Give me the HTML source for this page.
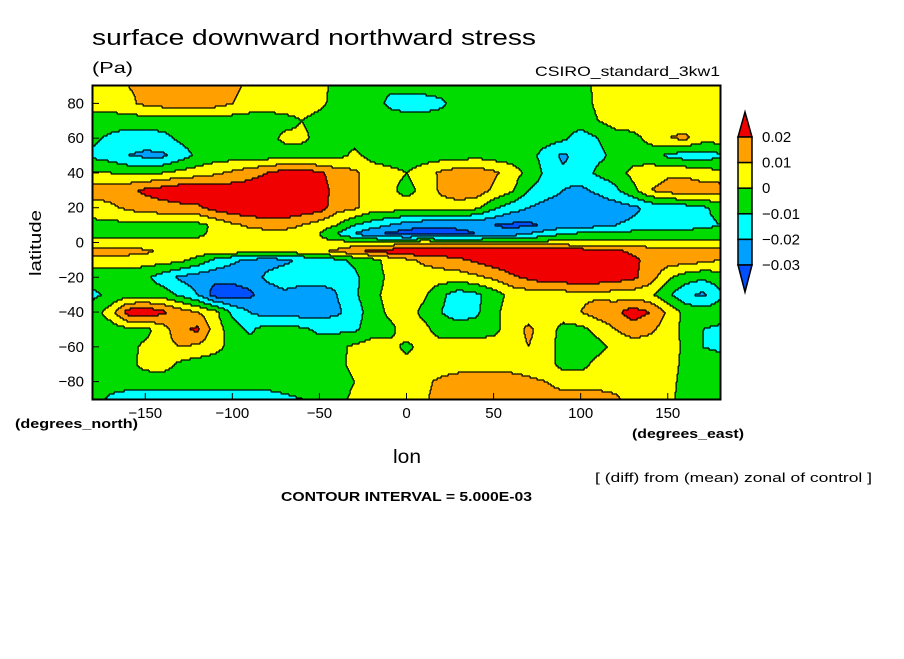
<!DOCTYPE html>
<html><head><meta charset="utf-8">
<style>
body{margin:0;background:#fff;width:904px;height:654px;overflow:hidden;font-family:"Liberation Sans",sans-serif;}
svg text{font-family:"Liberation Sans",sans-serif;}
</style></head>
<body>
<svg id="chart" width="904" height="654" viewBox="0 0 904 654" xmlns="http://www.w3.org/2000/svg">
<rect width="904" height="654" fill="#fff"/>
<text x="92" y="45" font-size="22" textLength="444" lengthAdjust="spacingAndGlyphs" fill="#000">surface downward northward stress</text>
<text x="92" y="73" font-size="16" textLength="41" lengthAdjust="spacingAndGlyphs" fill="#000">(Pa)</text>
<text x="535" y="76" font-size="14" textLength="185" lengthAdjust="spacingAndGlyphs" fill="#000">CSIRO_standard_3kw1</text>
<g id="fill"></g>
<g id="lines"></g>
<rect x="92.5" y="85.5" width="628" height="314" fill="none" stroke="#000" stroke-width="2"/>
<g id="axes"></g>
<text transform="translate(41,243) rotate(-90)" font-size="17" text-anchor="middle" textLength="66" lengthAdjust="spacingAndGlyphs" fill="#000">latitude</text>
<text x="15" y="428" font-size="13" font-weight="bold" textLength="123" lengthAdjust="spacingAndGlyphs" fill="#000">(degrees_north)</text>
<text x="632" y="438" font-size="13" font-weight="bold" textLength="112" lengthAdjust="spacingAndGlyphs" fill="#000">(degrees_east)</text>
<text x="393" y="463" font-size="19" textLength="28" lengthAdjust="spacingAndGlyphs" fill="#000">lon</text>
<text x="595" y="482" font-size="13" textLength="277" lengthAdjust="spacingAndGlyphs" fill="#000">[ (diff) from (mean) zonal of control ]</text>
<text x="281" y="501" font-size="13" font-weight="bold" textLength="251" lengthAdjust="spacingAndGlyphs" fill="#000">CONTOUR INTERVAL = 5.000E-03</text>
<g id="cbar"></g>
</svg>
<script>
// data (units of 1e-3 Pa)
const lons = [];
for (let l = -180; l <= 180; l += 10) lons.push(l);
const lats = [90,80,70,60,50,40,30,20,10,5,0,-5,-10,-20,-30,-40,-50,-60,-70,-80,-90];
const row90 = [5,5,10,12,15,15,15,15,12,8,5,5,5,3,-3,-5,-5,-8,-5,-5,-5,-5,-5,-5,-5,-5,-5,-5,-3,2,5,5,5,5,5,5,5];
const row80 = [5,5,8,12,14,15,15,14,10,6,5,5,4,2,-3,-5,-5,-12,-15,-15,-12,-5,-5,-5,-5,-5,-5,-5,-4,2,5,5,5,5,5,2,0];
const row70 = [-5,-5,-5,-5,-5,-5,-5,-5,-5,-5,-5,-3,0,-3,-5,-3,0,-5,-5,-5,-5,-5,-5,-5,-5,-5,-5,-5,-5,0,5,5,5,5,5,5,5];
const row60 = [-8,-12,-15,-15,-13,-8,-5,-5,-5,-5,-3,2,2,-3,-5,-3,-5,-5,-5,-5,-8,-5,-5,-5,-5,-5,-5,-8,-15,-10,-5,-3,3,10,12,5,5];
const row50 = [-12,-15,-20,-22,-22,-15,-8,-5,-5,-5,-5,-5,-5,-5,-3,2,-3,-5,-5,-5,-5,-5,-3,-5,-5,-5,-15,-22,-15,-12,-8,-5,-5,-12,-15,-15,-12];
const row40 = [0,0,-2,-2,0,3,5,8,12,16,20,25,25,22,15,12,5,3,0,5,12,16,16,12,5,-3,-12,-18,-15,-8,-5,3,5,8,8,5,3];
const row30 = [15,15,18,22,25,28,28,27,26,26,28,30,30,25,16,12,5,2,-3,3,12,16,16,8,2,-10,-15,-20,-22,-18,-12,-3,10,14,16,15,15];
const row20 = [5,8,12,15,16,17,18,24,27,28,28,28,27,25,14,12,5,5,5,5,5,5,2,-8,-15,-20,-24,-26,-26,-26,-25,-22,-18,-15,-15,-12,-6];
const row10 = [-3,-3,-3,-3,-3,-3,-3,2,8,12,15,15,10,5,0,-10,-15,-20,-25,-28,-28,-28,-28,-30,-32,-32,-28,-25,-25,-23,-20,-18,-15,-15,-15,-13,-10];
const row5 = [-3,-3,-3,-3,-3,-3,-2,2,4,5,5,5,3,0,-10,-20,-28,-32,-35,-35,-35,-32,-30,-28,-25,-20,-15,-10,-8,-7,-7,-6,-6,-5,-5,-5,-5];
const row0 = [3,3,3,3,3,3,3,3,3,3,3,3,3,3,3,3,3,3,5,8,6,4,3,3,3,3,3,3,3,3,3,3,3,3,3,3,3];
const rowS5 = [15,15,14,12,8,5,5,5,5,5,5,5,5,8,12,18,22,25,28,28,28,28,28,28,28,28,28,28,26,24,22,18,16,15,15,15,15];
const rowS10 = [5,5,5,5,5,3,-3,-12,-18,-22,-24,-22,-18,-15,-12,-8,-3,3,8,12,15,18,22,26,28,28,28,28,28,27,25,22,17,15,15,13,10];
const rowS20 = [-5,-5,-5,-8,-15,-22,-25,-27,-27,-25,-18,-15,-15,-15,-18,-12,-5,2,5,5,5,5,8,12,18,22,26,27,27,26,25,22,15,2,-5,-8,-5];
const rowS30 = [-12,-8,-5,-5,-5,-12,-20,-35,-35,-32,-25,-22,-25,-25,-20,-12,-3,3,5,2,-8,-15,-12,-5,3,5,5,5,8,8,5,5,2,-8,-18,-22,-12];
const rowS40 = [-5,5,25,28,22,15,10,3,-12,-20,-25,-25,-25,-25,-22,-15,-5,2,5,-3,-10,-15,-12,-3,5,5,5,5,10,15,18,25,20,8,-3,-5,-5];
const rowS50 = [-5,-5,-3,-3,5,18,22,5,-5,-12,-5,-5,-8,-12,-12,-12,-5,-3,5,3,-5,-5,-5,-3,5,12,5,-3,-3,3,10,15,12,5,-3,-10,-12];
const rowS60 = [-5,-5,-3,2,6,10,8,3,-3,-5,-5,-5,-5,-5,-3,2,5,3,-2,3,5,5,5,5,5,10,5,-5,-5,-3,3,5,5,5,-2,-10,-12];
const rowS70 = [-5,-5,-3,3,4,-2,-5,-5,-5,-5,-5,-5,-5,-5,-3,3,5,5,3,4,5,5,5,5,5,5,3,-3,-3,3,5,5,5,5,-3,-5,-5];
const rowS80 = [-5,-5,-5,-5,-5,-5,-5,-5,-5,-5,-5,-5,-5,-5,-5,0,5,5,5,8,12,15,16,16,15,12,10,5,5,5,5,5,5,3,-3,-5,-5];
const rowS90 = [-5,-12,-15,-15,-15,-15,-15,-15,-15,-15,-15,-12,-10,-5,-3,2,5,5,5,8,15,17,18,18,18,17,16,15,15,15,12,5,3,2,-3,-5,-5];
const grid = [row90,row80,row70,row60,row50,row40,row30,row20,row10,row5,row0,rowS5,rowS10,rowS20,rowS30,rowS40,rowS50,rowS60,rowS70,rowS80,rowS90];
const levels = [-30,-20,-10,0,10,20];
const levelLabels = ["-0.03","-0.02","-0.01","0","0.01","0.02"];
const colors = ["#0050ff","#00a0ff","#00ffff","#00dc00","#ffff00","#ffa000","#f00000"];
const xTicks = [-150,-100,-50,0,50,100,150];
const yTicks = [80,60,40,20,0,-20,-40,-60,-80];

const NS = "http://www.w3.org/2000/svg";
const X0 = 93, X1 = 720, Y0 = 86, Y1 = 399;
const xs = lon => X0 + (lon + 180) / 360 * (X1 - X0);
const ys = lat => Y0 + (90 - lat) / 180 * (Y1 - Y0);
const lonOf = x => (x - X0) / (X1 - X0) * 360 - 180;
const latOf = y => 90 - (y - Y0) / (Y1 - Y0) * 180;

function valueAt(lon, lat) {
  let fi = (lon + 180) / 10; fi = Math.max(0, Math.min(lons.length - 1.0001, fi));
  const i = Math.floor(fi), tx = fi - i;
  let j = 0;
  while (j < lats.length - 2 && lat < lats[j + 1]) j++;
  let ty = (lats[j] - lat) / (lats[j] - lats[j + 1]); ty = Math.max(0, Math.min(1, ty));
  const a = grid[j][i], b = grid[j][i + 1], c = grid[j + 1][i], d = grid[j + 1][i + 1];
  return (a * (1 - tx) + b * tx) * (1 - ty) + (c * (1 - tx) + d * tx) * ty;
}
function classOf(v) { let k = 0; while (k < levels.length && v >= levels[k]) k++; return k; }

const fillG = document.getElementById('fill');
const linesG = document.getElementById('lines');
const step = 2;
let prevRow = null;
for (let y = Y0; y < Y1; y += step) {
  const lat = latOf(y + step / 2);
  const rowCls = [];
  for (let x = X0; x < X1; x++) rowCls.push(classOf(valueAt(lonOf(x + 0.5), lat)));
  let runStart = 0;
  for (let i = 1; i <= rowCls.length; i++) {
    if (i === rowCls.length || rowCls[i] !== rowCls[runStart]) {
      const r = document.createElementNS(NS, 'rect');
      r.setAttribute('x', X0 + runStart); r.setAttribute('y', y);
      r.setAttribute('width', i - runStart); r.setAttribute('height', Math.min(step, Y1 - y) + 0.3);
      r.setAttribute('fill', colors[rowCls[runStart]]);
      
      
      fillG.appendChild(r);
      if (i < rowCls.length) {
        const b = document.createElementNS(NS, 'rect');
        b.setAttribute('x', X0 + i - 0.5); b.setAttribute('y', y);
        b.setAttribute('width', 1.2); b.setAttribute('height', step + 0.3);
        b.setAttribute('fill', '#000');
        
        
        linesG.appendChild(b);
      }
      runStart = i;
    }
  }
  if (prevRow) {
    let s = -1;
    for (let i = 0; i <= rowCls.length; i++) {
      const diff = i < rowCls.length && rowCls[i] !== prevRow[i];
      if (diff && s < 0) s = i;
      if (!diff && s >= 0) {
        const b = document.createElementNS(NS, 'rect');
        b.setAttribute('x', X0 + s); b.setAttribute('y', y - 0.6);
        b.setAttribute('width', i - s); b.setAttribute('height', 1.2);
        b.setAttribute('fill', '#000');
        
        
        linesG.appendChild(b);
        s = -1;
      }
    }
  }
  prevRow = rowCls;
}

const axesG = document.getElementById('axes');
xTicks.forEach(t => {
  const x = xs(t);
  const l = document.createElementNS(NS, 'line');
  l.setAttribute('x1', x); l.setAttribute('x2', x); l.setAttribute('y1', Y1); l.setAttribute('y2', Y1 - 6);
  l.setAttribute('stroke', '#000');
  
  
  axesG.appendChild(l);
  const tx = document.createElementNS(NS, 'text');
  tx.setAttribute('x', x); tx.setAttribute('y', 418); tx.setAttribute('font-size', '15');
  tx.setAttribute('text-anchor', 'middle');
  tx.textContent = t < 0 ? '\u2212' + Math.abs(t) : String(t);
  
  
  axesG.appendChild(tx);
});
yTicks.forEach(t => {
  const y = ys(t);
  const l = document.createElementNS(NS, 'line');
  l.setAttribute('x1', X0); l.setAttribute('x2', X0 + 6); l.setAttribute('y1', y); l.setAttribute('y2', y);
  l.setAttribute('stroke', '#000');
  
  
  axesG.appendChild(l);
  const tx = document.createElementNS(NS, 'text');
  tx.setAttribute('x', 84); tx.setAttribute('y', y + 5); tx.setAttribute('font-size', '15');
  tx.setAttribute('text-anchor', 'end');
  tx.textContent = t < 0 ? '\u2212' + Math.abs(t) : String(t);
  
  
  axesG.appendChild(tx);
});

// colorbar
const cb = document.getElementById('cbar');
const cbX = 738, cbW = 14, cbTop = 137, cbH = 25.6;
function add(tag, attrs, name) {
  const e = document.createElementNS(NS, tag);
  for (const k in attrs) e.setAttribute(k, attrs[k]);
  
  
  cb.appendChild(e); return e;
}
add('polygon', {points: `${cbX},${cbTop} ${cbX + cbW},${cbTop} ${cbX + cbW / 2},${cbTop - 25}`, fill: colors[6], stroke: '#000', 'stroke-width': 1.5}, 'colorbar-max-arrow');
for (let k = 5; k >= 1; k--) {
  const yy = cbTop + (5 - k) * cbH;
  add('rect', {x: cbX, y: yy, width: cbW, height: cbH, fill: colors[k], stroke: '#000', 'stroke-width': 1.5}, 'colorbar-box');
}
const cbBot = cbTop + 5 * cbH;
add('polygon', {points: `${cbX},${cbBot} ${cbX + cbW},${cbBot} ${cbX + cbW / 2},${cbBot + 27}`, fill: colors[0], stroke: '#000', 'stroke-width': 1.5}, 'colorbar-min-arrow');
for (let k = 0; k < levels.length; k++) {
  const yy = cbTop + (levels.length - 1 - k) * cbH;
  const t = add('text', {x: 762, y: yy + 5, 'font-size': 15}, 'colorbar-label');
  t.textContent = levelLabels[k].replace('-', '\u2212');
}
</script>
</body></html>
